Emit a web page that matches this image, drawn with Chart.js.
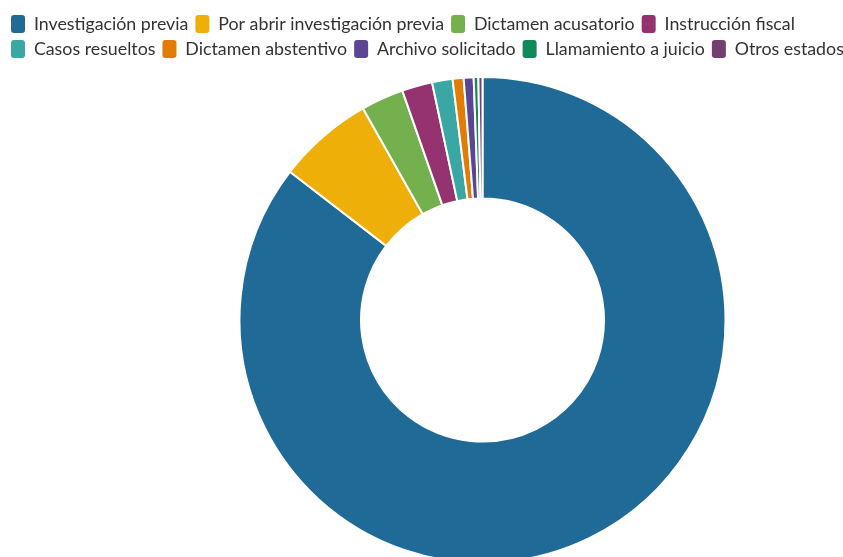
<!DOCTYPE html>
<html>
<head>
<meta charset="utf-8">
<script src="https://cdn.jsdelivr.net/npm/chart.js@4/dist/chart.umd.min.js"></script>
<style>
  html, body { margin: 0; padding: 0; background: #fff; overflow: hidden; }
  #wrap { width: 862px; height: 564px; }
</style>
</head>
<body>
<div id="wrap"><canvas id="myChart"></canvas></div>
<script>
const estados = [
  "Investigación previa",
  "Por abrir investigación previa",
  "Dictamen acusatorio",
  "Instrucción fiscal",
  "Casos resueltos",
  "Dictamen abstentivo",
  "Archivo solicitado",
  "Llamamiento a juicio",
  "Otros estados"
];
const casos = [8544, 638, 283, 202, 136, 73, 66, 31, 27];
const colores = [
  "#1f6a96", "#eeaf09", "#74b04d", "#94336f", "#3aa7a5",
  "#e37c05", "#5d4596", "#11895a", "#733f6f"
];

// push the chart area down a bit below the legend
const legendGap = {
  id: "legendGap",
  beforeInit(chart) {
    const fit = chart.legend.fit;
    chart.legend.fit = function () {
      fit.bind(chart.legend)();
      this.height += 8;
    };
  }
};

// doughnut sits right of the page centre
const shiftArea = {
  id: "shiftArea",
  afterLayout(chart) {
    const a = chart.chartArea;
    a.left = 122;
    a.right = 843;
    a.width = a.right - a.left;
  }
};

const data = {
  labels: estados,
  datasets: [
    {
      data: casos,
      backgroundColor: colores,
      borderColor: "#ffffff",
      borderWidth: 2,
      hoverOffset: 0
    }
  ]
};

const config = {
  type: "doughnut",
  data,
  options: {
    responsive: true,
    maintainAspectRatio: false,
    animation: false,
    cutout: "50%",
    layout: { padding: { top: 8, left: 4 } },
    plugins: {
      tooltip: { enabled: false },
      legend: {
        position: "top",
        align: "start",
        labels: {
          color: "#333333",
          font: { family: "Lato", size: 17.8 },
          boxWidth: 14,
          boxHeight: 18,
          padding: 7,
          useBorderRadius: true,
          borderRadius: 3,
          generateLabels(chart) {
            const items = Chart.overrides.doughnut.plugins.legend.labels.generateLabels(chart);
            items.forEach(it => { it.lineWidth = 0; });
            return items;
          }
        }
      }
    }
  },
  plugins: [legendGap, shiftArea]
};

const myChart = new Chart(document.getElementById("myChart"), config);
</script>
</body>
</html>
